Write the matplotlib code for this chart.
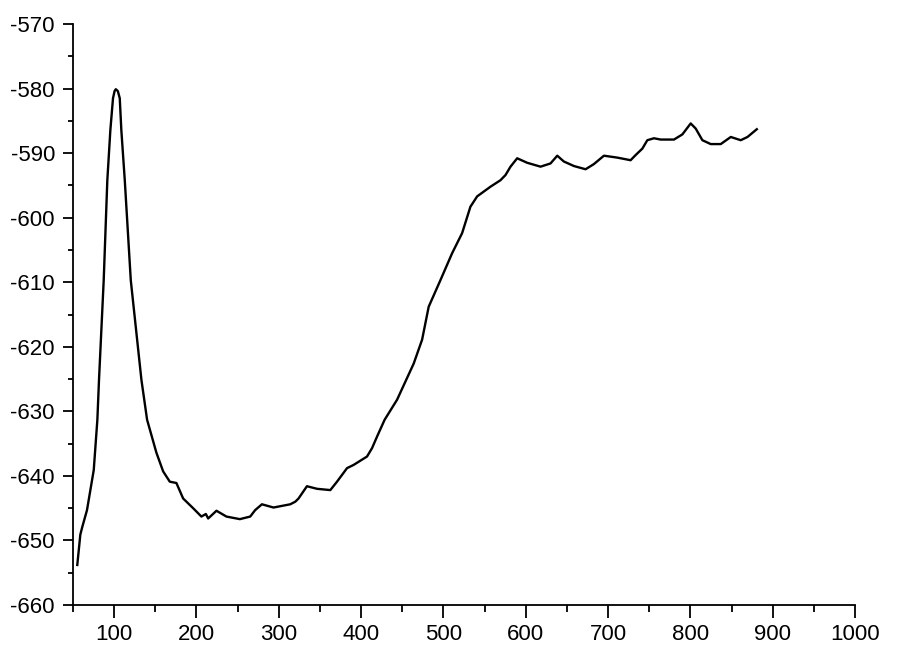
import matplotlib
matplotlib.use("Agg")
import matplotlib.pyplot as plt
from matplotlib.ticker import MultipleLocator

x_values = [55.2, 58.9, 61.3, 67.0, 75.2, 79.6, 81.6, 87.3, 91.7, 95.4, 98.6, 100.5, 102.0,
            104.5, 106.8, 108.7, 112.9, 120.2, 133.1, 140.0, 151.3, 159.5, 167.6, 175.6,
            183.8, 195.9, 206.0, 211.4, 214.2, 224.3, 236.4, 252.7, 265.3, 271.3,
            279.5, 293.6, 313.9, 320.0, 324.0, 334.2, 346.4, 362.6, 370.7, 382.9,
            390.9, 407.2, 413.3, 419.4, 428.6, 443.7, 463.9, 474.1, 482.1, 496.3,
            510.6, 522.7, 532.8, 541.0, 557.2, 569.3, 575.4, 581.5, 589.6, 601.8,
            618.0, 630.1, 638.3, 646.3, 658.5, 672.7, 682.8, 695.0, 711.3, 727.4,
            733.5, 741.7, 747.7, 755.8, 763.9, 780.1, 790.3, 800.4, 806.5, 814.6,
            824.7, 836.9, 849.1, 861.2, 869.4, 880.7]
y_values = [-653.8, -649.1, -647.9, -645.3, -639.1, -631.3, -625.1, -609.7, -594.2, -586.4,
            -581.5, -580.4, -580.1, -580.4, -581.5, -586.4, -594.2, -609.7, -625.1, -631.3,
            -636.4, -639.3, -640.9, -641.1, -643.5, -645.0, -646.3, -645.9, -646.6, -645.4,
            -646.3, -646.7, -646.3, -645.3, -644.4, -644.9, -644.4, -644.0, -643.5, -641.6,
            -642.0, -642.2, -640.9, -638.8, -638.3, -637.0, -635.7, -633.9, -631.3, -628.2,
            -622.6, -618.9, -613.8, -609.7, -605.5, -602.4, -598.3, -596.7, -595.2, -594.2,
            -593.4, -592.1, -590.8, -591.5, -592.1, -591.6, -590.4, -591.3, -592.0, -592.5,
            -591.7, -590.4, -590.7, -591.1, -590.3, -589.3, -588.0, -587.7, -587.9, -587.9,
            -587.1, -585.4, -586.2, -588.0, -588.6, -588.6, -587.5, -588.0, -587.5, -586.3]

x_ticks = [100, 200, 300, 400, 500, 600, 700, 800, 900, 1000]
y_ticks = [-660, -650, -640, -630, -620, -610, -600, -590, -580, -570]

plt.rcParams['font.family'] = ['Liberation Sans', 'DejaVu Sans']

fig = plt.figure(figsize=(9, 6.55), dpi=100)
ax = fig.add_axes([73/900, 50/655, (855-73)/900, (605-24)/655])
ax.plot(x_values, y_values, color='black', linewidth=1.7, solid_joinstyle='round')

ax.set_xlim(50, 1000)
ax.set_ylim(-660, -570)
ax.set_xticks(x_ticks)
ax.set_yticks(y_ticks)
ax.set_xticklabels([str(t) for t in x_ticks])
ax.set_yticklabels([str(t) for t in y_ticks])
ax.xaxis.set_minor_locator(MultipleLocator(50))
ax.yaxis.set_minor_locator(MultipleLocator(5))

for s in ['top', 'right']:
    ax.spines[s].set_visible(False)
for s in ['left', 'bottom']:
    ax.spines[s].set_linewidth(1.3)

ax.tick_params(axis='x', which='major', direction='out', length=9, width=1.3, labelsize=16, pad=5)
ax.tick_params(axis='x', which='minor', direction='out', length=5, width=1.3)
ax.tick_params(axis='y', which='major', direction='out', length=7, width=1.3, labelsize=16, pad=6)
ax.tick_params(axis='y', which='minor', direction='out', length=3.5, width=1.3)

fig.savefig('out.png', dpi=100)
